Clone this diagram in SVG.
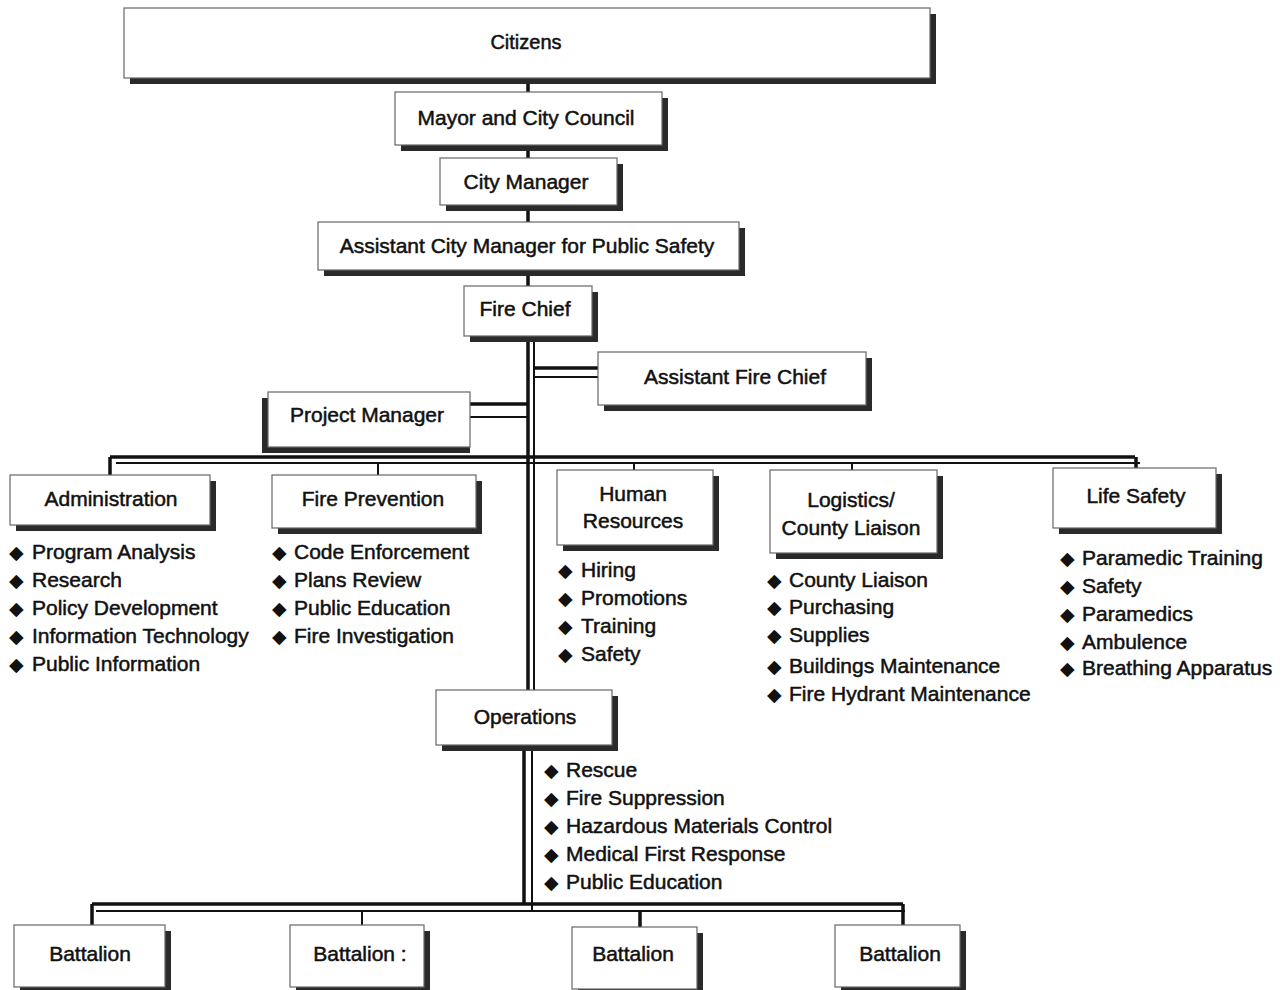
<svg xmlns="http://www.w3.org/2000/svg" width="1283" height="990" viewBox="0 0 1283 990">
<style>
.sh{fill:#2a2a2a}
.bx{fill:#fff;stroke:#666;stroke-width:1.2}
.t{font-family:"Liberation Sans",Arial,sans-serif;font-size:21px;fill:#111;stroke:#111;stroke-width:0.5;text-anchor:middle}
.l{font-family:"Liberation Sans",Arial,sans-serif;font-size:21px;fill:#111;stroke:#111;stroke-width:0.5}
.b{font-family:"DejaVu Sans",sans-serif;font-size:19px;fill:#111}
.c{stroke:#111;fill:none}
.k{stroke-width:3.5}
.n{stroke-width:2}
</style>
<rect width="1283" height="990" fill="#fff"/>
<g id="connectors">
<line class="c k" x1="528" y1="78" x2="528" y2="92"/>
<line class="c k" x1="528" y1="145" x2="528" y2="158"/>
<line class="c k" x1="528" y1="205" x2="528" y2="222"/>
<line class="c k" x1="528" y1="270" x2="528" y2="286"/>
<line class="c k" x1="528" y1="336" x2="528" y2="690"/>
<line class="c n" x1="534" y1="336" x2="534" y2="690"/>
<line class="c k" x1="534" y1="368" x2="610" y2="368"/>
<line class="c n" x1="534" y1="377" x2="610" y2="377"/>
<line class="c k" x1="455" y1="404" x2="528" y2="404"/>
<line class="c n" x1="460" y1="417" x2="528" y2="417"/>
<line class="c k" x1="110" y1="457" x2="1135" y2="457"/>
<line class="c n" x1="116" y1="463" x2="1140" y2="463"/>
<line class="c k" x1="110" y1="457" x2="110" y2="476"/>
<line class="c n" x1="378" y1="463" x2="378" y2="476"/>
<line class="c n" x1="634" y1="463" x2="634" y2="471"/>
<line class="c n" x1="852" y1="463" x2="852" y2="471"/>
<line class="c k" x1="1136" y1="457" x2="1136" y2="469"/>
<line class="c k" x1="524" y1="745" x2="524" y2="905"/>
<line class="c n" x1="532" y1="745" x2="532" y2="911"/>
<line class="c k" x1="92" y1="904" x2="903" y2="904"/>
<line class="c n" x1="96" y1="911" x2="905" y2="911"/>
<line class="c k" x1="92" y1="904" x2="92" y2="926"/>
<line class="c n" x1="362" y1="911" x2="362" y2="926"/>
<line class="c k" x1="640" y1="911" x2="640" y2="928"/>
<line class="c k" x1="903" y1="904" x2="903" y2="926"/>
</g>
<g id="citizens"><rect class="sh" x="130" y="14" width="806" height="70"/><rect class="bx" x="124" y="8" width="806" height="70"/><text class="t" x="526" y="49" style="font-size:20px">Citizens</text></g>
<g id="mayor"><rect class="sh" x="401" y="98" width="267" height="53"/><rect class="bx" x="395" y="92" width="267" height="53"/><text class="t" x="526" y="125">Mayor and City Council</text></g>
<g id="city-manager"><rect class="sh" x="446" y="164" width="177" height="47"/><rect class="bx" x="440" y="158" width="177" height="47"/><text class="t" x="526" y="189">City Manager</text></g>
<g id="acm"><rect class="sh" x="324" y="228" width="421" height="48"/><rect class="bx" x="318" y="222" width="421" height="48"/><text class="t" x="527" y="253">Assistant City Manager for Public Safety</text></g>
<g id="fire-chief"><rect class="sh" x="470" y="292" width="128" height="50"/><rect class="bx" x="464" y="286" width="128" height="50"/><text class="t" x="525" y="316">Fire Chief</text></g>
<g id="assistant-fire-chief"><rect class="sh" x="604" y="358" width="268" height="53"/><rect class="bx" x="598" y="352" width="268" height="53"/><text class="t" x="735" y="384">Assistant Fire Chief</text></g>
<g id="project-manager"><rect class="sh" x="262" y="398" width="208" height="55"/><rect class="bx" x="268" y="392" width="202" height="55"/><text class="t" x="367" y="422">Project Manager</text></g>
<g id="administration"><rect class="sh" x="16" y="481" width="200" height="50"/><rect class="bx" x="10" y="475" width="200" height="50"/><text class="t" x="111" y="506">Administration</text>
<text class="b" x="9" y="559">◆</text><text class="l" x="32" y="559">Program Analysis</text>
<text class="b" x="9" y="587">◆</text><text class="l" x="32" y="587">Research</text>
<text class="b" x="9" y="615">◆</text><text class="l" x="32" y="615">Policy Development</text>
<text class="b" x="9" y="643">◆</text><text class="l" x="32" y="643">Information Technology</text>
<text class="b" x="9" y="671">◆</text><text class="l" x="32" y="671">Public Information</text></g>
<g id="fire-prevention"><rect class="sh" x="278" y="481" width="204" height="53"/><rect class="bx" x="272" y="475" width="204" height="53"/><text class="t" x="373" y="506">Fire Prevention</text>
<text class="b" x="272" y="559">◆</text><text class="l" x="294" y="559">Code Enforcement</text>
<text class="b" x="272" y="587">◆</text><text class="l" x="294" y="587">Plans Review</text>
<text class="b" x="272" y="615">◆</text><text class="l" x="294" y="615">Public Education</text>
<text class="b" x="272" y="643">◆</text><text class="l" x="294" y="643">Fire Investigation</text></g>
<g id="human-resources"><rect class="sh" x="563" y="476" width="156" height="75"/><rect class="bx" x="557" y="470" width="156" height="75"/><text class="t" x="633" y="501">Human</text><text class="t" x="633" y="528">Resources</text>
<text class="b" x="558" y="577">◆</text><text class="l" x="581" y="577">Hiring</text>
<text class="b" x="558" y="605">◆</text><text class="l" x="581" y="605">Promotions</text>
<text class="b" x="558" y="633">◆</text><text class="l" x="581" y="633">Training</text>
<text class="b" x="558" y="661">◆</text><text class="l" x="581" y="661">Safety</text></g>
<g id="logistics"><rect class="sh" x="776" y="476" width="167" height="83"/><rect class="bx" x="770" y="470" width="167" height="83"/><text class="t" x="851" y="507">Logistics/</text><text class="t" x="851" y="535">County Liaison</text>
<text class="b" x="767" y="587">◆</text><text class="l" x="789" y="587">County Liaison</text>
<text class="b" x="767" y="614">◆</text><text class="l" x="789" y="614">Purchasing</text>
<text class="b" x="767" y="642">◆</text><text class="l" x="789" y="642">Supplies</text>
<text class="b" x="767" y="673">◆</text><text class="l" x="789" y="673">Buildings Maintenance</text>
<text class="b" x="767" y="701">◆</text><text class="l" x="789" y="701">Fire Hydrant Maintenance</text></g>
<g id="life-safety"><rect class="sh" x="1059" y="474" width="163" height="60"/><rect class="bx" x="1053" y="468" width="163" height="60"/><text class="t" x="1136" y="503">Life Safety</text>
<text class="b" x="1060" y="565">◆</text><text class="l" x="1082" y="565">Paramedic Training</text>
<text class="b" x="1060" y="593">◆</text><text class="l" x="1082" y="593">Safety</text>
<text class="b" x="1060" y="621">◆</text><text class="l" x="1082" y="621">Paramedics</text>
<text class="b" x="1060" y="649">◆</text><text class="l" x="1082" y="649">Ambulence</text>
<text class="b" x="1060" y="675">◆</text><text class="l" x="1082" y="675">Breathing Apparatus</text></g>
<g id="operations"><rect class="sh" x="442" y="696" width="176" height="55"/><rect class="bx" x="436" y="690" width="176" height="55"/><text class="t" x="525" y="724">Operations</text>
<text class="b" x="544" y="777">◆</text><text class="l" x="566" y="777">Rescue</text>
<text class="b" x="544" y="805">◆</text><text class="l" x="566" y="805">Fire Suppression</text>
<text class="b" x="544" y="833">◆</text><text class="l" x="566" y="833">Hazardous Materials Control</text>
<text class="b" x="544" y="861">◆</text><text class="l" x="566" y="861">Medical First Response</text>
<text class="b" x="544" y="889">◆</text><text class="l" x="566" y="889">Public Education</text></g>
<g id="battalion-1"><rect class="sh" x="20" y="931" width="151" height="62"/><rect class="bx" x="14" y="925" width="151" height="62"/><text class="t" x="90" y="961">Battalion</text></g>
<g id="battalion-2"><rect class="sh" x="296" y="931" width="134" height="62"/><rect class="bx" x="290" y="925" width="134" height="62"/><text class="t" x="360" y="961">Battalion :</text></g>
<g id="battalion-3"><rect class="sh" x="578" y="933" width="125" height="62"/><rect class="bx" x="572" y="927" width="125" height="62"/><text class="t" x="633" y="961">Battalion</text></g>
<g id="battalion-4"><rect class="sh" x="841" y="931" width="125" height="62"/><rect class="bx" x="835" y="925" width="125" height="62"/><text class="t" x="900" y="961">Battalion</text></g>
</svg>
